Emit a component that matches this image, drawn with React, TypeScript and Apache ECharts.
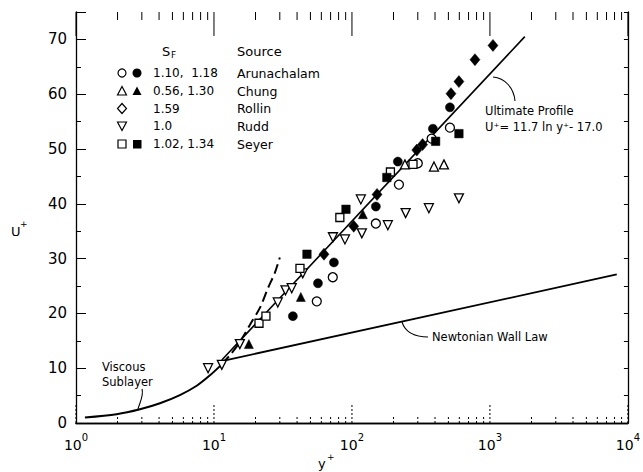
import React, { useEffect, useRef } from 'react';
import * as echarts from 'echarts';

// ---- axis ranges / ticks ----
const xMin = 1;
const xMax = 10000;
const yMin = 0;
const yMax = 75;
const decades = [1, 10, 100, 1000, 10000];
const minorDecades = [1, 10, 100, 1000];
const minorMultipliers = [2, 3, 4, 5, 6, 7, 8, 9];

// ---- data (y+, U+) ----
const arunOpen = [[55.6, 22.2], [72.6, 26.6], [149, 36.4], [219, 43.5], [300, 47.4], [378, 51.9], [513, 53.9]];
const arunFilled = [[37.3, 19.5], [56.7, 25.5], [74, 29.3], [149, 39.5], [215, 47.7], [386, 53.7], [513, 57.6]];
const chungOpen = [[242, 47.2], [393, 46.8], [464, 47.2]];
const chungFilled = [[17.9, 14.4], [42.6, 23.0], [120, 38.1]];
const rollin = [[62.7, 30.8], [103, 35.9], [152, 41.7], [295, 49.8], [325, 50.8], [522, 60.1], [596, 62.3], [779, 66.3], [1052, 68.9]];
const rudd = [[9.06, 10.0], [11.4, 10.6], [15.4, 14.4], [29, 22.0], [33, 24.2], [36.6, 24.6], [44, 27.3], [72.8, 33.9], [89, 33.5], [116, 40.8], [118, 34.6], [182, 36.1], [245, 38.3], [361, 39.2], [596, 41.0]];
const seyerOpen = [[21.2, 18.2], [23.8, 19.5], [42, 28.2], [81.7, 37.5], [190, 45.8], [277, 47.2]];
const seyerFilled = [[47.2, 30.8], [90.5, 39.0], [179, 44.8], [404, 51.4], [596, 52.8]];

// ---- curves ----
const viscousCurve = [[1.16, 1.0], [1.97, 1.6], [2.91, 2.5], [4.06, 3.6], [5.66, 5.1], [7.5, 6.8], [9.35, 8.7], [11.4, 10.7]];
const wallLaw = [[11.4, 11.3], [8300, 27.1]];
const ultimateProfile = [[11.4, 11.5], [1790, 70.5]];
const dashedCurve = [[11.4, 10.8], [13.1, 12.4], [15.4, 14.8], [18.2, 17.9], [21.6, 21.1], [24.6, 24.6], [27.7, 27.5], [30, 30.2]];

// ---- legend ----
const legendSF = ['1.10,  1.18', '0.56, 1.30', '1.59', '1.0', '1.02, 1.34'];
const legendSource = ['Arunachalam', 'Chung', 'Rollin', 'Rudd', 'Seyer'];

const FONT = '"DejaVu Sans", "Noto Sans", sans-serif';

function tickSeries(vals: number[], atTop: boolean, len: number, dashed: boolean) {
  return {
    type: 'custom',
    silent: true,
    clip: false,
    z: 1,
    data: vals.map((v) => [v, atTop ? yMax : yMin]),
    encode: { x: 0, y: 1 },
    renderItem: (_p: any, api: any) => {
      const p = api.coord([api.value(0), api.value(1)]);
      return {
        type: 'line',
        shape: { x1: p[0], y1: p[1], x2: p[0], y2: atTop ? p[1] + len : p[1] - len },
        style: { stroke: '#000', lineWidth: 1, lineDash: dashed ? [2, 2] : null },
      };
    },
  };
}

function scatter(name: string, data: number[][], symbol: string, filled: boolean, rotate = 0, size: any = 9) {
  return {
    name,
    type: 'scatter',
    data,
    symbol,
    symbolSize: size,
    symbolRotate: rotate,
    z: 5,
    itemStyle: filled
      ? { color: '#000', borderColor: '#000', borderWidth: 0.5, opacity: 1 }
      : { color: '#fff', borderColor: '#000', borderWidth: 1.3, opacity: 1 },
  };
}

function lineSeries(data: number[][], width: number, dashed: boolean, smooth: boolean | number) {
  return {
    type: 'line',
    data,
    showSymbol: false,
    symbol: 'none',
    smooth,
    z: 3,
    lineStyle: { color: '#000', width, type: dashed ? [10, 5] : 'solid' },
  };
}

function legendGraphics() {
  const els: any[] = [];
  const rowsY = [73, 91, 108.5, 126, 144];
  const openX = 122;
  const fillX = 137;
  const stroke = { stroke: '#000', lineWidth: 1.2 };
  const tri = (cx: number, cy: number, up: boolean) =>
    up
      ? [[cx - 4.5, cy + 4], [cx + 4.5, cy + 4], [cx, cy - 4.5]]
      : [[cx - 4.5, cy - 4], [cx + 4.5, cy - 4], [cx, cy + 4.5]];
  els.push({ type: 'circle', shape: { cx: openX, cy: rowsY[0], r: 4 }, style: { fill: '#fff', ...stroke } });
  els.push({ type: 'circle', shape: { cx: fillX, cy: rowsY[0], r: 4.5 }, style: { fill: '#000' } });
  els.push({ type: 'polygon', shape: { points: tri(openX, rowsY[1], true) }, style: { fill: '#fff', ...stroke } });
  els.push({ type: 'polygon', shape: { points: tri(fillX, rowsY[1], true) }, style: { fill: '#000' } });
  els.push({
    type: 'polygon',
    shape: { points: [[openX, rowsY[2] - 5], [openX + 4.5, rowsY[2]], [openX, rowsY[2] + 5], [openX - 4.5, rowsY[2]]] },
    style: { fill: '#fff', ...stroke },
  });
  els.push({ type: 'polygon', shape: { points: tri(openX, rowsY[3], false) }, style: { fill: '#fff', ...stroke } });
  els.push({ type: 'rect', shape: { x: openX - 4, y: rowsY[4] - 4, width: 8, height: 8 }, style: { fill: '#fff', ...stroke } });
  els.push({ type: 'rect', shape: { x: fillX - 4, y: rowsY[4] - 4, width: 8.5, height: 8.5 }, style: { fill: '#000' } });

  legendSF.forEach((t, i) => {
    els.push({
      type: 'text', x: 153, y: rowsY[i],
      style: { text: t, font: `12px ${FONT}`, fill: '#000', textVerticalAlign: 'middle', verticalAlign: 'middle' },
    });
  });
  legendSource.forEach((t, i) => {
    els.push({
      type: 'text', x: 237, y: rowsY[i],
      style: { text: t, font: `12.5px ${FONT}`, fill: '#000', textVerticalAlign: 'middle', verticalAlign: 'middle' },
    });
  });
  els.push({ type: 'text', x: 162, y: 51, style: { text: 'S', font: `13px ${FONT}`, fill: '#000', textVerticalAlign: 'middle', verticalAlign: 'middle' } });
  els.push({ type: 'text', x: 171, y: 55, style: { text: 'F', font: `9px ${FONT}`, fill: '#000', textVerticalAlign: 'middle', verticalAlign: 'middle' } });
  els.push({ type: 'text', x: 237, y: 51, style: { text: 'Source', font: `13px ${FONT}`, fill: '#000', textVerticalAlign: 'middle', verticalAlign: 'middle' } });
  return els;
}

function annotationGraphics() {
  const t = (text: string, x: number, y: number, size = 12) => ({
    type: 'text', x, y,
    style: { text, font: `${size}px ${FONT}`, fill: '#000', textVerticalAlign: 'middle', verticalAlign: 'middle' },
  });
  const curve = (x1: number, y1: number, cx1: number, cy1: number, cx2: number, cy2: number, x2: number, y2: number) => ({
    type: 'bezierCurve',
    shape: { x1, y1, cpx1: cx1, cpy1: cy1, cpx2: cx2, cpy2: cy2, x2, y2 },
    style: { stroke: '#000', lineWidth: 1.1, fill: null },
  });
  return [
    t('Ultimate Profile', 485, 111, 11.5),
    t('U⁺= 11.7 ln y⁺- 17.0', 485, 127, 11.5),
    curve(493, 77, 505, 78, 514, 88, 515, 101),
    t('Newtonian Wall Law', 432, 337, 11.5),
    curve(402, 322, 405, 332, 415, 337, 428, 337),
    t('Viscous', 102, 367, 11.5),
    t('Sublayer', 102, 382, 11.5),
    curve(142, 389, 144, 395, 140, 402, 138, 409),
    t('U', 11, 231, 13),
    t('+', 20, 224, 9),
    t('y', 318, 463, 13),
    t('+', 327, 457, 9),
  ];
}

export default function App() {
  const ref = useRef<HTMLDivElement>(null);
  useEffect(() => {
    if (!ref.current) return;
    const chart = echarts.init(ref.current, undefined, { renderer: 'svg' });
    const minorTicks: number[] = [];
    minorDecades.forEach((d) => minorMultipliers.forEach((m) => minorTicks.push(d * m)));

    const axisLine = { show: true, lineStyle: { color: '#000', width: 1.3 } };
    const option: any = {
      animation: false,
      backgroundColor: '#fff',
      grid: { left: 76, right: 15, top: 12, bottom: 49, containLabel: false },
      xAxis: [
        {
          type: 'log', logBase: 10, min: xMin, max: xMax, position: 'bottom',
          axisLine, axisTick: { show: false }, splitLine: { show: false },
          axisLabel: {
            margin: 9,
            formatter: (v: number) => `{b|10}{s|${Math.round(Math.log10(v))}}`,
            rich: {
              b: { fontSize: 14, fontFamily: FONT, color: '#000', lineHeight: 20, verticalAlign: 'bottom' },
              s: { fontSize: 10, fontFamily: FONT, color: '#000', lineHeight: 20, verticalAlign: 'top' },
            },
          },
        },
        {
          type: 'log', logBase: 10, min: xMin, max: xMax, position: 'top',
          axisLine, axisTick: { show: false }, axisLabel: { show: false }, splitLine: { show: false },
        },
      ],
      yAxis: [
        {
          type: 'value', min: yMin, max: yMax, interval: 10, position: 'left',
          axisLine,
          axisTick: { show: true, inside: true, length: 10, lineStyle: { color: '#000' } },
          minorTick: { show: true, splitNumber: 2, length: 5, lineStyle: { color: '#000' } },
          splitLine: { show: false },
          axisLabel: {
            margin: 9, fontSize: 15, fontFamily: FONT, color: '#000',
            formatter: (v: number) => (v % 10 === 0 ? String(v) : ''),
          },
        },
        {
          type: 'value', min: yMin, max: yMax, interval: 5, position: 'right',
          axisLine,
          axisTick: { show: true, inside: true, length: 4, lineStyle: { color: '#000' } },
          axisLabel: { show: false }, splitLine: { show: false },
        },
      ],
      series: [
        tickSeries(decades, false, 20, true),
        tickSeries(minorTicks, false, 7, true),
        tickSeries(decades, true, 24, false),
        tickSeries(minorTicks, true, 8, false),
        lineSeries(viscousCurve, 2, false, 0.3),
        lineSeries(wallLaw, 1.8, false, false),
        lineSeries(ultimateProfile, 1.6, false, false),
        lineSeries(dashedCurve, 2, true, 0.3),
        scatter('Arunachalam 1.10', arunOpen, 'circle', false),
        scatter('Arunachalam 1.18', arunFilled, 'circle', true),
        scatter('Chung 0.56', chungOpen, 'triangle', false),
        scatter('Chung 1.30', chungFilled, 'triangle', true),
        scatter('Rollin', rollin, 'diamond', true, 0, [10, 12]),
        scatter('Rudd', rudd, 'triangle', false, 180),
        scatter('Seyer 1.02', seyerOpen, 'rect', false, 0, 8),
        scatter('Seyer 1.34', seyerFilled, 'rect', true, 0, 8.5),
      ],
      graphic: [...legendGraphics(), ...annotationGraphics()],
    };
    chart.setOption(option);
    return () => chart.dispose();
  }, []);
  return (
    <div
      ref={ref}
      style={{ position: 'fixed', left: 0, top: 0, width: 643, height: 472, background: '#fff' }}
    />
  );
}
